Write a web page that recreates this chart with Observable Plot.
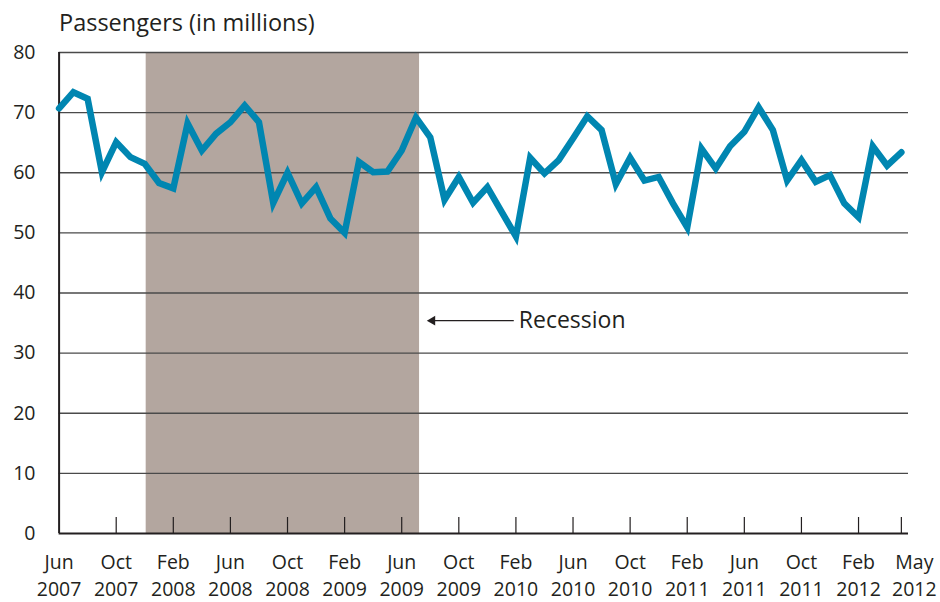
<!DOCTYPE html>
<html>
<head>
<meta charset="utf-8">
<script src="https://cdn.jsdelivr.net/npm/d3@7"></script>
<script src="https://cdn.jsdelivr.net/npm/@observablehq/plot@0.6"></script>
<style>
  html, body { margin: 0; padding: 0; background: #fff; }
  #wrap { position: relative; width: 940px; height: 602px; font-family: "Open Sans", sans-serif; }
  #title { position: absolute; left: 59px; top: 11px; font-size: 23.5px; line-height: 1; color: #231f20; white-space: nowrap; }
</style>
</head>
<body>
<div id="wrap"><div id="title">Passengers (in millions)</div></div>
<script>
// Months, Jun 2007 .. May 2012
const months = ["Jun 2007","Jul 2007","Aug 2007","Sep 2007","Oct 2007","Nov 2007","Dec 2007","Jan 2008","Feb 2008","Mar 2008",
"Apr 2008","May 2008","Jun 2008","Jul 2008","Aug 2008","Sep 2008","Oct 2008","Nov 2008","Dec 2008","Jan 2009",
"Feb 2009","Mar 2009","Apr 2009","May 2009","Jun 2009","Jul 2009","Aug 2009","Sep 2009","Oct 2009","Nov 2009",
"Dec 2009","Jan 2010","Feb 2010","Mar 2010","Apr 2010","May 2010","Jun 2010","Jul 2010","Aug 2010","Sep 2010",
"Oct 2010","Nov 2010","Dec 2010","Jan 2011","Feb 2011","Mar 2011","Apr 2011","May 2011","Jun 2011","Jul 2011",
"Aug 2011","Sep 2011","Oct 2011","Nov 2011","Dec 2011","Jan 2012","Feb 2012","Mar 2012","Apr 2012","May 2012"];
const passengers = [70.7,73.4,72.3,60.1,65.1,62.6,61.5,58.3,57.4,68.2,
63.7,66.5,68.4,71.2,68.4,55.0,60.0,54.9,57.6,52.4,
50.0,61.8,60.1,60.2,63.7,69.2,65.9,55.5,59.3,55.0,
57.6,53.5,49.4,62.5,59.9,62.1,65.7,69.4,67.1,58.1,
62.5,58.7,59.3,54.9,50.9,64.0,60.7,64.4,66.8,70.9,
67.1,58.7,62.1,58.5,59.6,54.9,52.6,64.4,61.2,63.4];
const tickMonths = ["Jun 2007","Oct 2007","Feb 2008","Jun 2008","Oct 2008","Feb 2009","Jun 2009","Oct 2009","Feb 2010","Jun 2010","Oct 2010","Feb 2011","Jun 2011","Oct 2011","Feb 2012","May 2012"];
const yTicks = [0,10,20,30,40,50,60,70,80];
const recessionStart = 6.1;   // month offset (Dec 2007)
const recessionEnd = 25.25;   // month offset (Jul 2009)
const annotationLabel = "Recession";
const annotationY = 35.4;
const annotationTextX = 32.2;

const data = passengers.map((v, i) => ({i, month: months[i], v}));
const ticks = tickMonths.map((m, k) => ({i: months.indexOf(m), line1: m.split(" ")[0], line2: m.split(" ")[1], last: k === tickMonths.length - 1}));

const chart = Plot.plot({
  width: 940,
  height: 602,
  marginLeft: 58.6,
  marginRight: 32,
  marginTop: 52,
  marginBottom: 69,
  style: {fontFamily: "'Open Sans', sans-serif", background: "transparent", overflow: "visible"},
  x: {domain: [0, 59.5], axis: null},
  y: {domain: [0, 80], axis: null},
  marks: [
    Plot.rect([{x1: recessionStart, x2: recessionEnd}], {x1: "x1", x2: "x2", y1: 0, y2: 80, fill: "#b3a69f"}),
    Plot.ruleY(yTicks.filter(d => d > 0), {stroke: "#4a4a4a", strokeWidth: 1.4}),
    Plot.ruleY([0], {stroke: "#231f20", strokeWidth: 2}),
    Plot.ruleX([0], {stroke: "#231f20", strokeWidth: 2}),
    Plot.ruleX(ticks.filter(d => d.i > 0), {x: "i", y1: 0, y2: 0, insetTop: -16, stroke: "#231f20", strokeWidth: 1.2}),
    Plot.text(yTicks, {x: 0, y: d => d, text: d => String(d), textAnchor: "end", dx: -23.6, fontSize: 19.5, fill: "#231f20"}),
    Plot.text(ticks.filter(d => !d.last), {x: "i", text: "line1", frameAnchor: "bottom", dy: 35, fontSize: 19.5, fill: "#231f20"}),
    Plot.text(ticks.filter(d => !d.last), {x: "i", text: "line2", frameAnchor: "bottom", dy: 62, fontSize: 19.5, fill: "#231f20"}),
    Plot.text(ticks.filter(d => d.last), {x: "i", text: "line1", frameAnchor: "bottom", dy: 35, dx: 13, fontSize: 19.5, fill: "#231f20"}),
    Plot.text(ticks.filter(d => d.last), {x: "i", text: "line2", frameAnchor: "bottom", dy: 62, dx: 13, fontSize: 19.5, fill: "#231f20"}),
    Plot.link([{x1: recessionEnd + 0.9, x2: annotationTextX - 0.35}], {x1: "x1", x2: "x2", y1: annotationY, y2: annotationY, stroke: "#231f20", strokeWidth: 1.3}),
    Plot.dot([{x: recessionEnd + 0.9}], {x: "x", y: annotationY, symbol: "triangle", rotate: -90, r: 3.6, fill: "#231f20", stroke: "none"}),
    Plot.text([annotationLabel], {x: annotationTextX, y: annotationY, text: d => d, textAnchor: "start", fontSize: 23, fill: "#231f20"}),
    Plot.line(data, {x: "i", y: "v", stroke: "#0086b1", strokeWidth: 6.5, strokeLinejoin: "miter", strokeMiterlimit: 4, curve: "linear"})
  ]
});
chart.style.position = "absolute";
chart.style.left = "0px";
chart.style.top = "0px";
document.getElementById("wrap").appendChild(chart);
</script>
</body>
</html>
